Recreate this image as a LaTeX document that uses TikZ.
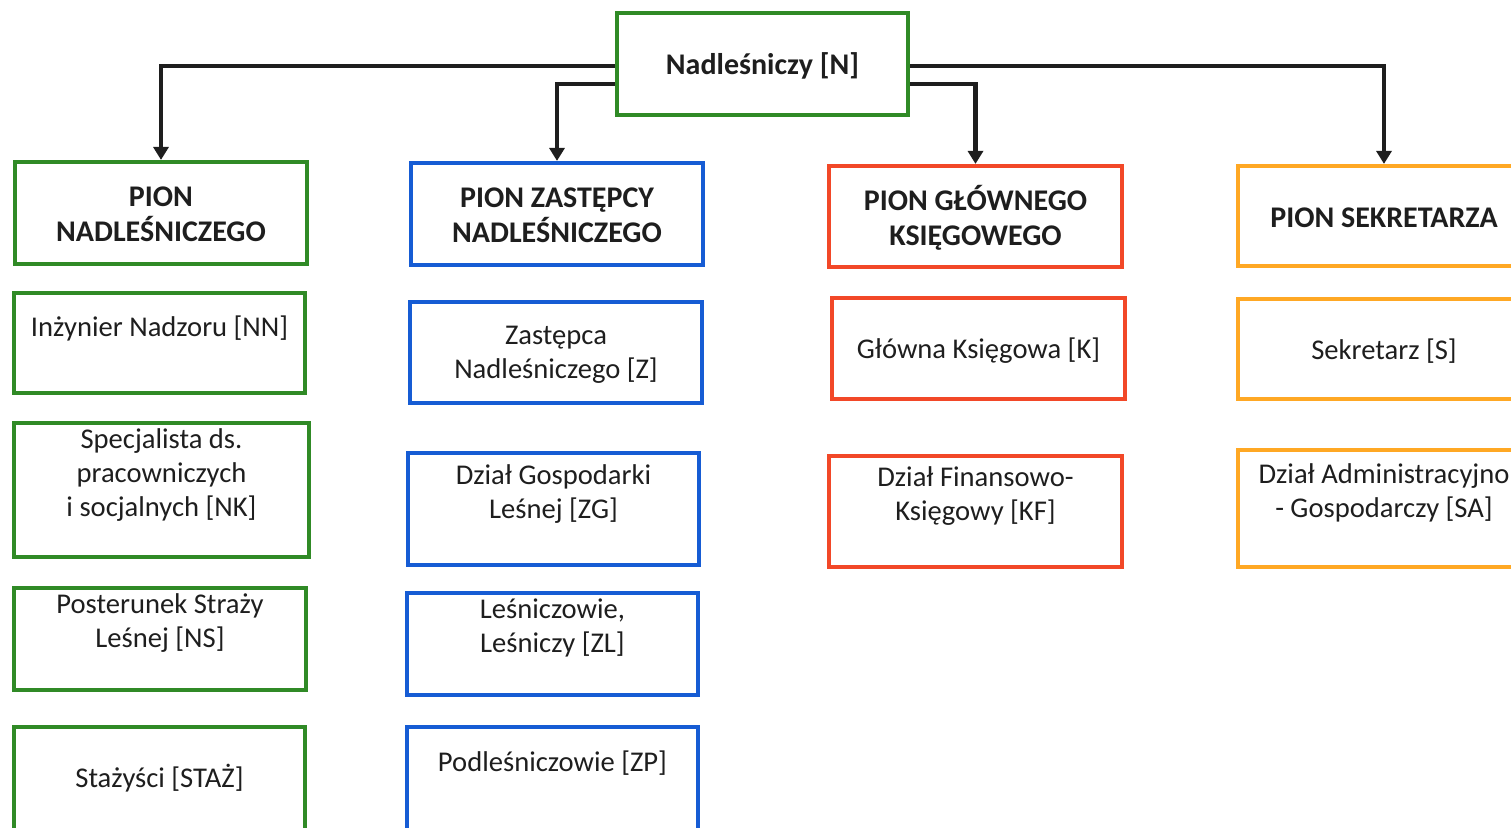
\documentclass[tikz,border=0pt]{standalone}
\usepackage{fontspec}
\setmainfont{Carlito}
\usetikzlibrary{arrows.meta,fit}
\definecolor{cg}{RGB}{48,138,38}
\definecolor{cb}{RGB}{22,92,212}
\definecolor{cr}{RGB}{242,72,40}
\definecolor{co}{RGB}{255,168,36}
\definecolor{ink}{RGB}{30,30,30}
\tikzset{
  box/.style={draw=#1, line width=2.1pt, inner sep=0pt},
  txt/.style={font=\fontsize{14.3}{17}\selectfont, align=center, text=ink, inner sep=0pt},
  hd/.style={txt, font=\fontsize{15}{17.5}\selectfont\bfseries},
  conn/.style={line width=2.1pt, draw=ink, -{Triangle[width=7.5pt,length=6.5pt]}}
}
\newcommand\orgbox[9]{%
  \node[box=#2, fit={(#3,#4)(#5,#6)}] (#1) {};
  \node[#7] (#1t) at ({(#3+#5)/2},#8) {#9};
}
\begin{document}
\begin{tikzpicture}[x=0.5pt,y=-0.5pt]
\useasboundingbox (0,0) rectangle (1511,827);
\clip (0,0) rectangle (1511,827);
\orgbox{N}{cg}{617}{13}{908}{115}{hd}{66}{Nadleśniczy [N]}
\orgbox{pn}{cg}{15}{162}{307}{264}{hd}{214}{PION\\NADLEŚNICZEGO}
\orgbox{nn}{cg}{14}{293}{305}{393}{txt}{328}{Inżynier Nadzoru [NN]}
\orgbox{nk}{cg}{14}{423}{309}{557}{txt}{475}{Specjalista ds.\\pracowniczych\\i socjalnych [NK]}
\orgbox{ns}{cg}{14}{588}{306}{690}{txt}{623}{Posterunek Straży\\Leśnej [NS]}
\orgbox{st}{cg}{14}{727}{305}{840}{txt}{778}{Stażyści [STAŻ]}
\orgbox{pz}{cb}{411}{163}{703}{265}{hd}{215}{PION ZASTĘPCY\\NADLEŚNICZEGO}
\orgbox{z}{cb}{410}{302}{702}{403}{txt}{355}{Zastępca\\Nadleśniczego [Z]}
\orgbox{zg}{cb}{408}{453}{699}{565}{txt}{494}{Dział Gospodarki\\Leśnej [ZG]}
\orgbox{zl}{cb}{407}{593}{698}{695}{txt}{628}{Leśniczowie,\\Leśniczy [ZL]}
\orgbox{zp}{cb}{407}{727}{698}{840}{txt}{763}{Podleśniczowie [ZP]}
\orgbox{pg}{cr}{829}{166}{1122}{267}{hd}{218}{PION GŁÓWNEGO\\KSIĘGOWEGO}
\orgbox{k}{cr}{832}{298}{1125}{399}{txt}{351}{Główna Księgowa [K]}
\orgbox{kf}{cr}{829}{456}{1122}{567}{txt}{496}{Dział Finansowo-\\Księgowy [KF]}
\orgbox{ps}{co}{1238}{166}{1530}{266}{hd}{218}{PION SEKRETARZA}
\orgbox{s}{co}{1238}{299}{1530}{399}{txt}{351}{Sekretarz [S]}
\orgbox{sa}{co}{1238}{450}{1530}{567}{txt}{493}{Dział Administracyjno\\- Gospodarczy [SA]}
\draw[conn] ([yshift=-1pt]N.west) -| (pn.north);
\draw[conn] ([yshift=-10pt]N.west) -| (pz.north);
\draw[conn] ([yshift=-1pt]N.east) -| (ps.north);
\draw[conn] ([yshift=-10pt]N.east) -| (pg.north);
\end{tikzpicture}
\end{document}
